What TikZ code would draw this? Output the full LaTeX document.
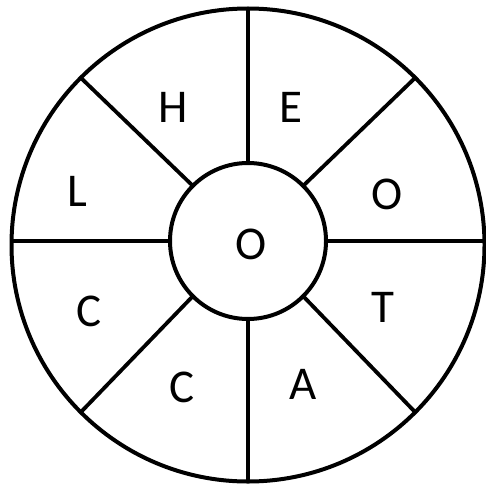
\documentclass[tikz,border=0pt]{standalone}
\usepackage{fontspec}
\setmainfont{Carlito}
\usepackage{tikz}
\usetikzlibrary{positioning}

\tikzset{
  ring/.style={draw=black, line width=4pt, circle, outer sep=0pt, inner sep=0pt},
  spoke/.style={draw=black, line width=3.8pt},
  letter/.style={font=\fontsize{47}{47}\selectfont, inner sep=0pt}
}

\begin{document}
\begin{tikzpicture}[x=1pt, y=-1pt]
\useasboundingbox (0,0) rectangle (486,484);

% Wheel rims
\node[ring, minimum size=473pt] (outer) at (248,245) {};
\node[ring, minimum size=156pt] (inner) at (248,241) {};

% Spokes between the rims
\foreach \a in {45,90,135,225,270,315}
  \draw[spoke] (inner.\a) -- (outer.\a);
\foreach \a in {0,180}
  \draw[spoke] (inner.\a) -- (inner.\a -| outer.\a);

% Letters
\node[letter] (hub) at (251,244) {O};
\node[letter] (h) at (173,107) {H};
\node[letter] (e) at (291,107) {E};
\node[letter] (o) at (387,194) {O};
\node[letter] (t) at (383,307) {T};
\node[letter] (a) at (303,384) {A};
\node[letter] (c1) at (182,387) {C};
\node[letter] (c2) at (89,311) {C};
\node[letter] (l) at (77,191) {L};

\end{tikzpicture}
\end{document}
